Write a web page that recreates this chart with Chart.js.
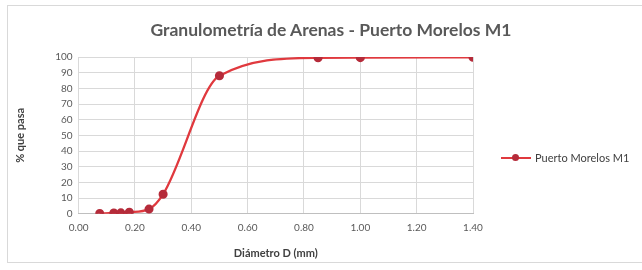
<!DOCTYPE html>
<html>
<head>
<meta charset="utf-8">
<script src="https://cdn.jsdelivr.net/npm/chart.js@4.4.1/dist/chart.umd.min.js"></script>
<style>
  html, body { margin: 0; padding: 0; background: #fff; }
  #frame {
    position: absolute; left: 7px; top: 5px;
    width: 640px; height: 258px;
    border: 1px solid #d9d9d9; box-sizing: border-box;
  }
  #title {
    position: absolute; left: 0; width: 662px; top: 19px;
    text-align: center;
    font: bold 17.5px Lato, 'Open Sans', sans-serif; color: #595959;
  }
  #legend {
    position: absolute; left: 501px; top: 151px;
    font: 11px Lato, 'Open Sans', sans-serif; color: #404040;
    display: flex; align-items: center; white-space: nowrap;
  }
  #legend .swatch { position: relative; width: 30px; height: 10px; margin-right: 4px; }
  #legend .swatch::before {
    content: ''; position: absolute; left: 0; right: 0; top: 4px; height: 2px; background: #e0393e;
  }
  #legend .swatch::after {
    content: ''; position: absolute; left: 11px; top: 1px; width: 7px; height: 7px;
    border-radius: 50%; background: #b52b3a;
  }
</style>
</head>
<body>
<div id="frame">
  <canvas id="c" width="638" height="256"></canvas>
</div>
<div id="title"></div>
<div id="legend"><span class="swatch"></span><span id="legendText"></span></div>
<script>
// Sieve opening (mm) and cumulative percent passing
const diameters = [0.075, 0.125, 0.15, 0.18, 0.25, 0.30, 0.50, 0.85, 1.00, 1.40];
const passing   = [0.2, 0.5, 0.6, 1.0, 3.0, 12.5, 88.0, 99.5, 99.6, 99.8];
const seriesName = 'Puerto Morelos M1';
const chartTitle = 'Granulometría de Arenas - Puerto Morelos M1';

const FONT = "Lato, 'Open Sans', sans-serif";

document.getElementById('title').textContent = chartTitle;
document.getElementById('legendText').textContent = seriesName;

const points = diameters.map((d, i) => ({ x: d, y: passing[i] }));

new Chart(document.getElementById('c').getContext('2d'), {
  type: 'line',
  data: {
    datasets: [{
      label: seriesName,
      data: points,
      borderColor: '#e0393e',
      borderWidth: 2.3,
      pointBackgroundColor: '#b52b3a',
      pointBorderColor: '#b52b3a',
      pointRadius: 3.4,
      cubicInterpolationMode: 'monotone',
      fill: false,
    }],
  },
  options: {
    responsive: false,
    animation: false,
    layout: { padding: { left: 6, right: 173, top: 51, bottom: 2 } },
    plugins: {
      legend: { display: false },
      tooltip: { enabled: false },
      title: { display: false },
    },
    scales: {
      x: {
        type: 'linear',
        min: 0, max: 1.4,
        ticks: {
          stepSize: 0.2,
          color: '#595959',
          font: { family: FONT, size: 10 },
          padding: 8,
          callback: v => v.toFixed(2),
        },
        grid: { color: '#d9d9d9', drawTicks: false },
        border: { color: '#bfbfbf' },
        title: {
          display: true,
          text: 'Diámetro D (mm)',
          color: '#404040',
          font: { family: FONT, size: 11, weight: 'bold' },
          padding: { top: 5, bottom: 0 },
        },
      },
      y: {
        min: 0, max: 100,
        ticks: {
          stepSize: 10,
          color: '#595959',
          font: { family: FONT, size: 10 },
          padding: 6,
        },
        grid: { color: '#d9d9d9', drawTicks: false },
        border: { display: false },
        title: {
          display: true,
          text: '% que pasa',
          color: '#404040',
          font: { family: FONT, size: 11, weight: 'bold' },
          padding: { top: 0, bottom: 22 },
        },
      },
    },
  },
});
</script>
</body>
</html>
